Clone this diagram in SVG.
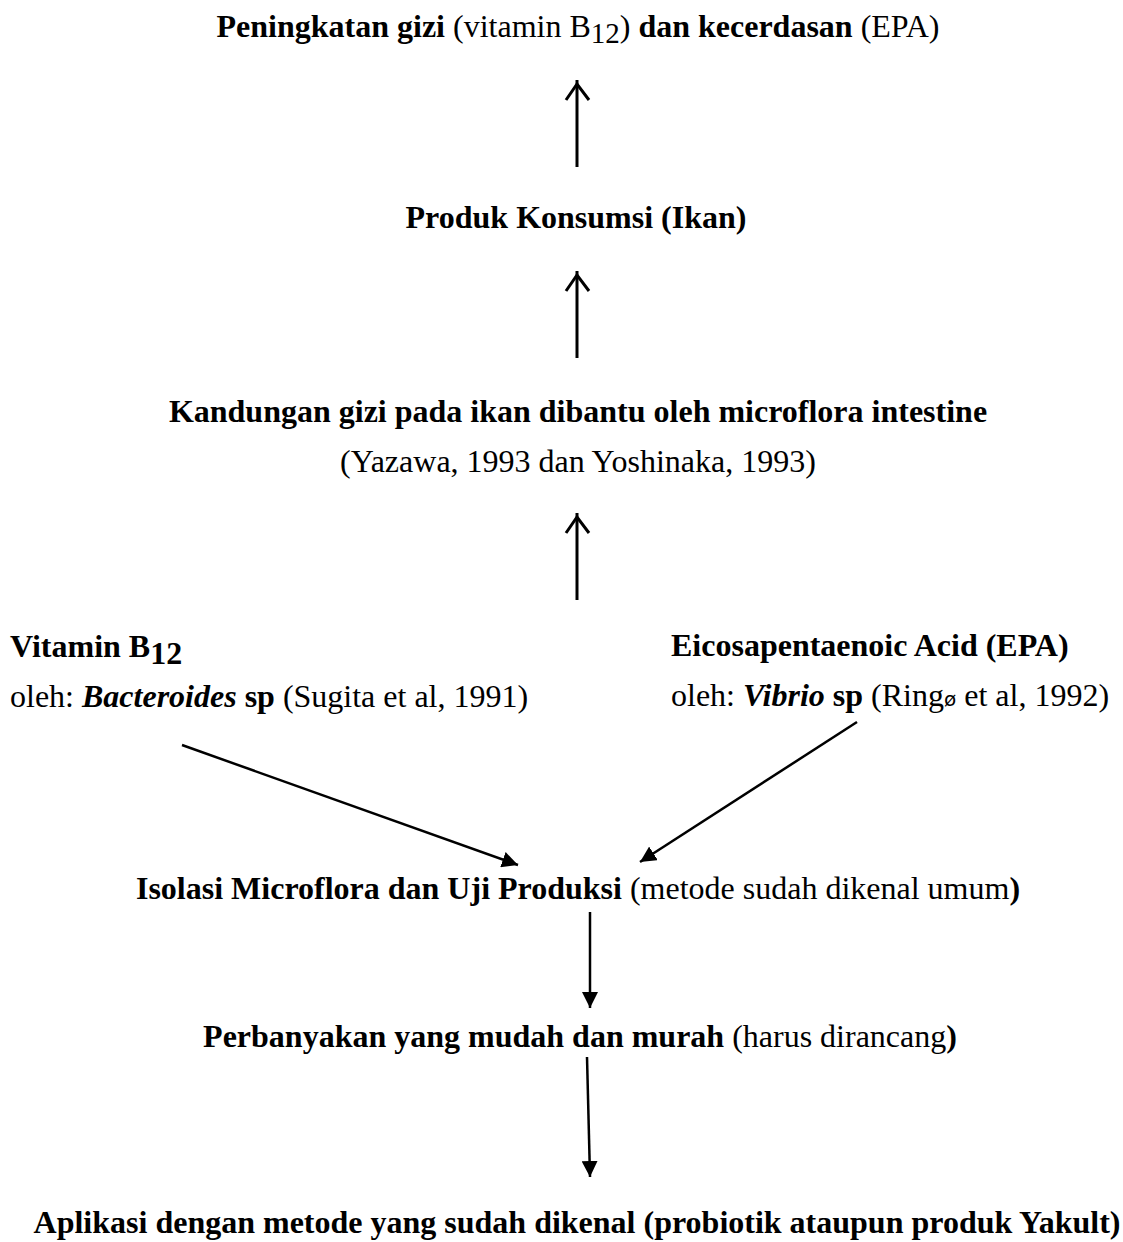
<svg xmlns="http://www.w3.org/2000/svg" width="1123" height="1242" viewBox="0 0 1123 1242">
<style>
text{font-family:"Liberation Serif","Times New Roman",serif;font-size:32px;fill:#000}
.b{font-weight:bold}
.n{font-weight:normal}
.i{font-style:italic}
.c{text-anchor:middle}
.ln{stroke:#000;stroke-width:3;fill:none}
.open{stroke:#000;stroke-width:3;fill:none;stroke-linejoin:miter}
.thin{stroke:#000;stroke-width:2.5;fill:none}
</style>
<defs>
<marker id="tri" viewBox="0 0 10 10" refX="10" refY="5" markerWidth="16" markerHeight="16" markerUnits="userSpaceOnUse" orient="auto">
<path d="M0,0 L10,5 L0,10 Z" fill="#000"/>
</marker>
</defs>
<rect width="1123" height="1242" fill="#fff"/>
<g id="n-top"><text class="b c" x="578" y="37">Peningkatan gizi <tspan class="n">(vitamin B</tspan><tspan class="n" dy="6" font-size="29">12</tspan><tspan class="n" dy="-6">)</tspan> dan kecerdasan <tspan class="n">(EPA)</tspan></text></g>
<g id="n-produk"><text class="b c" x="576" y="228">Produk Konsumsi (Ikan)</text></g>
<g id="n-kandungan"><text class="b c" x="578" y="422">Kandungan gizi pada ikan dibantu oleh microflora intestine</text>
<text class="c" x="578" y="472">(Yazawa, 1993 dan Yoshinaka, 1993)</text></g>
<g id="n-vitb12"><text class="b" x="10" y="657">Vitamin B<tspan dy="7">12</tspan></text>
<text x="10" y="707">oleh: <tspan class="b i">Bacteroides</tspan> <tspan class="b">sp</tspan> (Sugita et al, 1991)</text></g>
<g id="n-epa"><text class="b" x="671" y="656">Eicosapentaenoic Acid (EPA)</text>
<text x="671" y="706">oleh: <tspan class="b i">Vibrio</tspan> <tspan class="b">sp</tspan> (Ring<tspan font-family="DejaVu Sans,sans-serif" font-size="20">ø</tspan> et al, 1992)</text></g>
<g id="n-isolasi"><text class="b c" x="578" y="899">Isolasi Microflora dan Uji Produksi <tspan class="n">(metode sudah dikenal umum</tspan>)</text></g>
<g id="n-perbanyakan"><text class="b c" x="580" y="1047">Perbanyakan yang mudah dan murah <tspan class="n">(harus dirancang</tspan>)</text></g>
<g id="n-aplikasi"><text class="b c" x="577" y="1233">Aplikasi dengan metode yang sudah dikenal (probiotik ataupun produk Yakult)</text></g>
<g id="connectors">
<line class="ln" x1="577" y1="167" x2="577" y2="80"/>
<path class="open" d="M566,100 L577,84 L589,100"/>
<line class="ln" x1="577" y1="358" x2="577" y2="271"/>
<path class="open" d="M566,291 L577,275 L589,291"/>
<line class="ln" x1="577" y1="600" x2="577" y2="513"/>
<path class="open" d="M566,533 L577,517 L589,533"/>
<line class="thin" x1="182" y1="745" x2="518" y2="865" marker-end="url(#tri)"/>
<line class="thin" x1="857" y1="722" x2="640" y2="862" marker-end="url(#tri)"/>
<line class="thin" x1="590" y1="912" x2="590" y2="1008" marker-end="url(#tri)"/>
<line class="thin" x1="587" y1="1057" x2="590" y2="1177" marker-end="url(#tri)"/>
</g>
</svg>
